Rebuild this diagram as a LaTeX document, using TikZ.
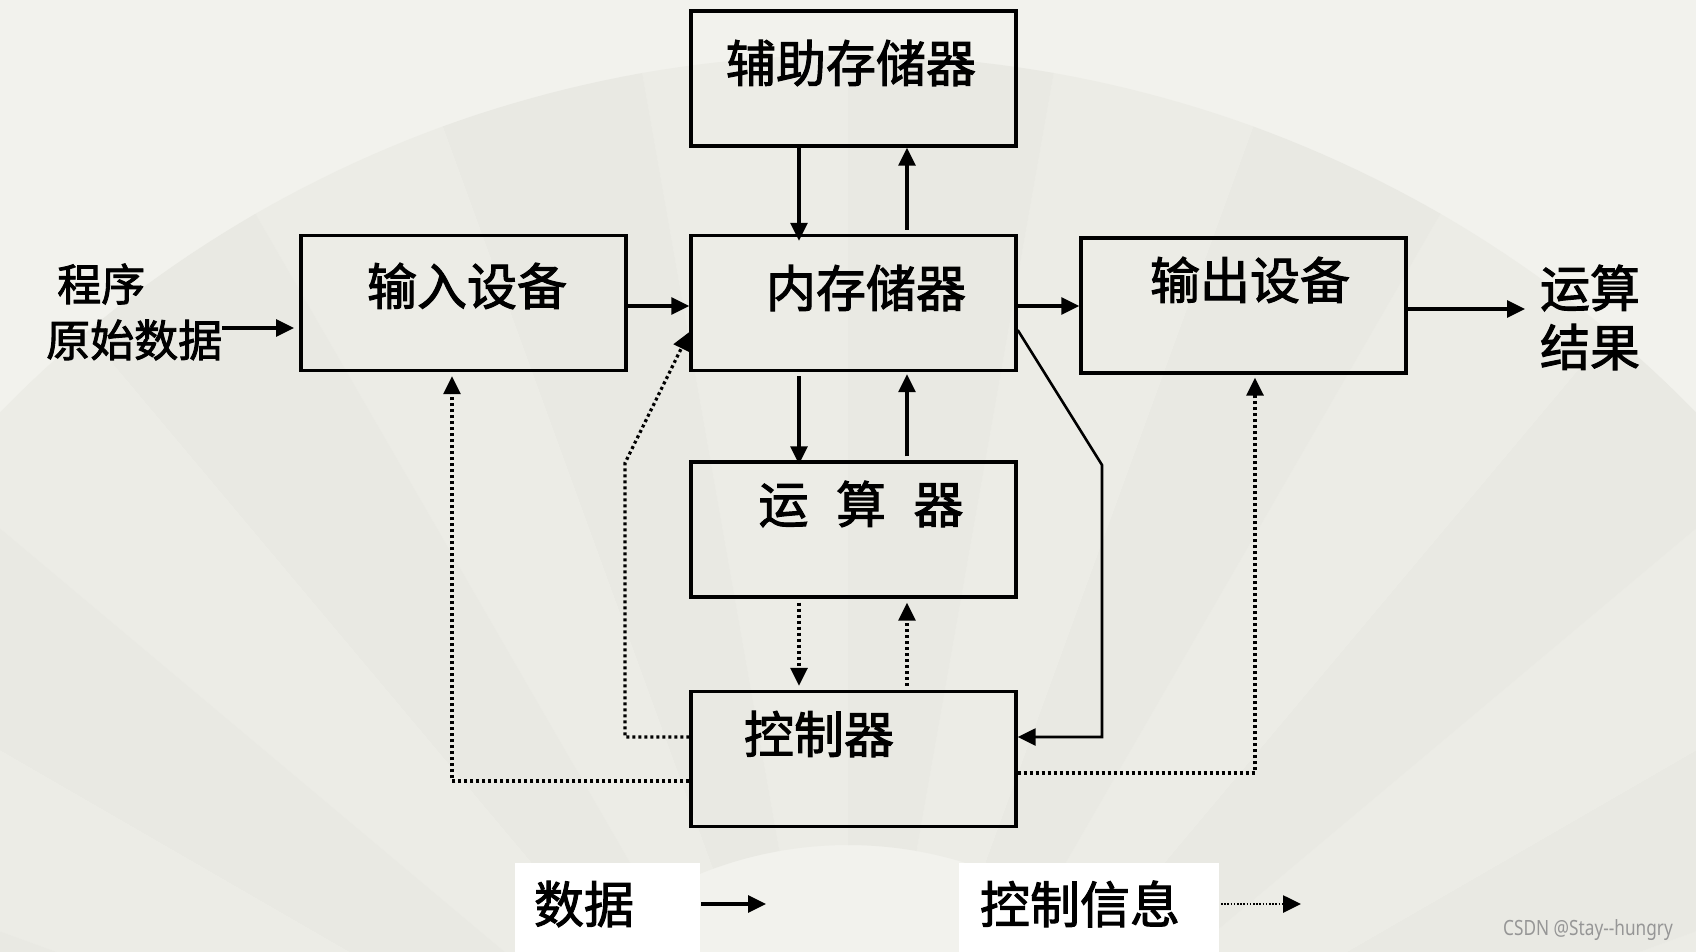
\documentclass[tikz,border=0pt]{standalone}
\usepackage{fontspec}
\usepackage{graphicx}
\setmainfont{Noto Sans CJK SC}
\newfontfamily\cjkheavy{Noto Sans CJK SC}[FakeBold=2]
\newfontfamily\markfont{Noto Sans}
\usetikzlibrary{arrows.meta,calc}

\definecolor{paper}{RGB}{242,242,237}
\definecolor{fanA}{RGB}{236,236,230}
\definecolor{fanB}{RGB}{233,233,227}
\definecolor{markgray}{RGB}{150,150,150}

\tikzset{
  unit/.style={draw=black, line width=3.4pt, minimum width=325pt, minimum height=135pt, inner sep=0pt},
  lbl/.style={font=\cjkheavy\fontsize{50}{50}\selectfont, inner sep=0pt},
  side/.style={font=\cjkheavy\fontsize{44}{44}\selectfont, inner sep=0pt},
  tipshape/.style={-{Triangle[length=18pt,width=17pt]}},
  data/.style={line width=3.2pt, tipshape},
  ctrl/.style={line width=3.2pt, dash pattern=on 3pt off 3pt, tipshape},
  keybox/.style={fill=white, draw=none, inner sep=0pt, minimum height=89pt},
}

\begin{document}
\begin{tikzpicture}[x=1pt,y=-1pt]
\useasboundingbox (0,0) rectangle (1696,952);

% paper and folding fan in the background
\begin{scope}
  \clip (0,0) rectangle (1696,952);
  \fill[paper] (0,0) rectangle (1696,952);
  \foreach \a [count=\i] in {10,20,...,160} {
    \pgfmathsetmacro{\b}{\a+10}
    \ifodd\i
      \def\fancol{fanA}
    \else
      \def\fancol{fanB}
    \fi
    \fill[\fancol]
      plot[domain=\a:\b,samples=12] ({848+1185*cos(\x)},{1240-1185*sin(\x)})
      -- plot[domain=\b:\a,samples=12] ({848+395*cos(\x)},{1240-395*sin(\x)})
      -- cycle;
  }
\end{scope}

% functional units
\node[unit] (aux) at (853.5,78.5) {};
\node[unit] (inp) at (463.5,303) {};
\node[unit] (mem) at (853.5,303) {};
\node[unit] (out) at (1243.5,305.5) {};
\node[unit] (alu) at (853.5,529.5) {};
\node[unit] (ctl) at (853.5,759) {};

\node[lbl] (auxT) at (851,63) {辅助存储器};
\node[lbl] (inpT) at (467,286) {输入设备};
\node[lbl] (memT) at (866,288) {内存储器};
\node[lbl] (outT) at (1250,280) {输出设备};
\node[lbl] (aluT) at (861,504) {运\hspace{0.55em}算\hspace{0.55em}器};
\node[lbl] (ctlT) at (819,734) {控制器};

% source and result captions
\node[side, anchor=west] (srcA) at (57,284) {程序};
\node[side, anchor=west] (srcB) at (46,340) {原始数据};
\node[lbl] (resA) at (1590,288) {运算};
\node[lbl] (resB) at (1590,347) {结果};

% data paths
\coordinate (srcP) at (222,328);
\coordinate (srcQ) at (294,328);
\draw[data] (srcP) -- (srcQ);
\draw[data] ($(inp.east)+(0,3)$) -- ($(mem.west)+(0,3)$);
\draw[data] ($(mem.east)+(0,3)$) -- ($(out.west)+(0,0.5)$);
\coordinate (resP) at (1525,309);
\draw[data] (resP -| out.east) -- (resP);

\draw[data] ($(aux.south)+(-54.5,0)$) -- ($(mem.north)+(-54.5,7)$);
\draw[data] ($(mem.north)+(53.5,-4)$) -- ($(aux.south)+(53.5,0)$);
\draw[data] ($(mem.south)+(-54.5,4)$) -- ($(alu.north)+(-54.5,4)$);
\draw[data] ($(alu.north)+(53.5,-4)$) -- ($(mem.south)+(53.5,2)$);

\coordinate (bendA) at (1102,465);
\coordinate (bendB) at (1102,737);
\draw[data, line width=2.6pt] ($(mem.east)+(0,27)$) -- (bendA) -- (bendB) -- (bendB -| ctl.east);

% control paths
\draw[ctrl] ($(alu.south)+(-54.5,4)$) -- ($(ctl.north)+(-54.5,-4)$);
\draw[ctrl] ($(ctl.north)+(53.5,-4)$) -- ($(alu.south)+(53.5,4)$);

\coordinate (bendC) at (625,737);
\coordinate (bendD) at (625,463);
\draw[ctrl] (bendC -| ctl.west) -- (bendC) -- (bendD) -- ($(mem.west)+(0,29)$);

\coordinate (bendE) at (452,781);
\draw[ctrl] (bendE -| ctl.west) -- (bendE) -- ($(bendE |- inp.south)+(0,4)$);

\coordinate (bendF) at (1255,773);
\draw[ctrl] (bendF -| ctl.east) -- (bendF) -- ($(bendF |- out.south)+(0,3)$);

% legend
\node[keybox, minimum width=185pt] (keyA) at (607.5,907.5) {};
\node[keybox, minimum width=260pt] (keyB) at (1089,907.5) {};
\node[lbl] (keyAT) at (584,904) {数据};
\node[lbl] (keyBT) at (1080,904) {控制信息};
\coordinate (keyA1) at (701,904);
\coordinate (keyA2) at (766,904);
\draw[data] (keyA1) -- (keyA2);
\coordinate (keyB1) at (1221,904);
\coordinate (keyB2) at (1301,904);
\draw[ctrl, line width=2.6pt, dash pattern=on 1.6pt off 1.6pt] (keyB1) -- (keyB2);

% watermark
\node[inner sep=0pt, text=markgray, font=\markfont\fontsize{21}{21}\selectfont] (mark) at (1588,930) {\scalebox{0.82}[1]{CSDN @Stay--hungry}};
\end{tikzpicture}
\end{document}
